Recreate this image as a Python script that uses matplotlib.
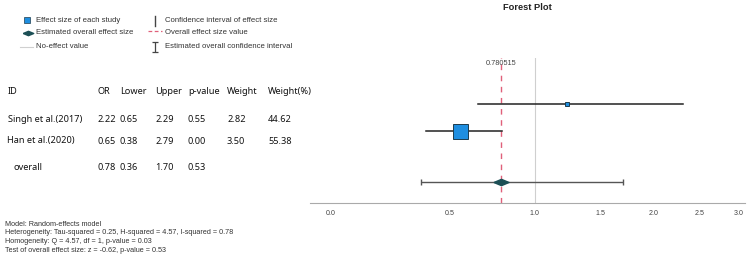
import numpy as np
import matplotlib
matplotlib.use("Agg")
import matplotlib.pyplot as plt

# ---- data ----
study_ids = ["Singh et al.(2017)", "Han et al.(2020)", "overall"]
col_names = ["ID", "OR", "Lower", "Upper", "p-value", "Weight", "Weight(%)"]
table_or = ["2.22", "0.65", "0.78"]
table_lower = ["0.65", "0.38", "0.36"]
table_upper = ["2.29", "2.79", "1.70"]
table_p = ["0.55", "0.00", "0.53"]
table_weight = ["2.82", "3.50", ""]
table_weight_pct = ["44.62", "55.38", ""]

# positions of marks as drawn in the plot panel
study_point = [1.23, 0.55]
study_lo = [0.65, 0.38]
study_hi = [2.31, 0.79]
study_row = [1.0, 2.0]
study_msize = [2.9, 10.8]

overall_est = 0.780515
overall_lo = 0.36
overall_hi = 1.70
overall_row = 3.9

no_effect = 1.0
xticks = [0.0, 0.5, 1.0, 1.5, 2.0, 2.5, 3.0]

footer = [
    "Model: Random-effects model",
    "Heterogeneity: Tau-squared = 0.25, H-squared = 4.57, I-squared = 0.78",
    "Homogeneity: Q = 4.57, df = 1, p-value = 0.03",
    "Test of overall effect size: z = -0.62, p-value = 0.53",
]

BLUE = "#1e8ee0"
EDGE = "#1d3b4c"
TEAL = "#1c4f55"
RED = "#e0607a"

fig = plt.figure(figsize=(7.5, 2.66), dpi=100)

# overlay axes in pixel units for legend, table and notes
lax = fig.add_axes([0, 0, 1, 1])
lax.set_xlim(0, 750)
lax.set_ylim(266, 0)
lax.axis("off")

# ---- forest panel ----
W, H = 750, 266
ax = fig.add_axes([310 / W, (H - 203) / H, 435 / W, 145 / H])
ax.set_facecolor("none")
ax.set_xscale("function", functions=(np.log1p, np.expm1))
ax.set_xlim(-0.069, 3.09)
ax.set_ylim(4.67, -0.70)

ax.axvline(no_effect, color="#cfcfcf", lw=0.8, zorder=1)
ax.axvline(overall_est, color=RED, lw=1.0, ls=(0, (4, 4)), zorder=2)
ax.text(overall_est, 0.965, f"{overall_est:g}", transform=ax.get_xaxis_transform(),
        ha="center", va="center", fontsize=5.3, color="#444444", family="Liberation Sans")

for p, lo, hi, r, ms in zip(study_point, study_lo, study_hi, study_row, study_msize):
    ax.plot([lo, hi], [r, r], color="#222222", lw=1.1, zorder=3)
    ax.plot(p, r, marker="s", ms=ms, mfc=BLUE, mec=EDGE, mew=0.7, zorder=4)

ax.errorbar(overall_est, overall_row, xerr=[[overall_est - overall_lo], [overall_hi - overall_est]],
            fmt="none", ecolor="#555555", elinewidth=1.0, capsize=2.5, capthick=1.0, zorder=3)
diamond = [(-1, 0), (0, 0.42), (1, 0), (0, -0.42), (-1, 0)]
ax.plot(overall_est, overall_row, marker=diamond, ms=10.8, mfc=TEAL, mec=TEAL, zorder=4)

for s in ["top", "right", "left"]:
    ax.spines[s].set_visible(False)
ax.spines["bottom"].set_color("#aaaaaa")
ax.spines["bottom"].set_linewidth(0.8)
ax.set_yticks([])
ax.set_xticks(xticks)
ax.set_xticklabels([f"{t:.1f}" for t in xticks], fontsize=5.1, color="#444444",
                   family="Liberation Sans")
ax.tick_params(axis="x", length=0, pad=5)

fig.text(527 / W, 1 - 8 / H, "Forest Plot", ha="center", va="center",
         fontsize=6.7, fontweight="bold", color="#222222", family="Liberation Sans")

# ---- legend (drawn by hand) ----
lfont = dict(fontsize=5.6, color="#333333", family="Liberation Sans", va="center")
lax.plot(27, 20, marker="s", ms=5, mfc=BLUE, mec=EDGE, mew=0.5)
lax.text(36, 21, "Effect size of each study", **lfont)
lax.plot(28, 33, marker=diamond, ms=7.5, mfc=TEAL, mec=TEAL)
lax.text(36, 33, "Estimated overall effect size", **lfont)
lax.plot([20, 33], [47, 47], color="#d0d0d0", lw=0.8)
lax.text(36, 47, "No-effect value", **lfont)
lax.plot([155, 155], [16, 26], color="#444444", lw=1.0)
lax.text(165, 21, "Confidence interval of effect size", **lfont)
lax.plot([148, 162], [31, 31], color=RED, lw=0.9, ls=(0, (3, 2)))
lax.text(165, 33, "Overall effect size value", **lfont)
lax.errorbar(155, 47, yerr=5, fmt="none", ecolor="#444444", elinewidth=0.9,
             capsize=2, capthick=0.9)
lax.text(165, 47, "Estimated overall confidence interval", **lfont)

# ---- table ----
tfont = dict(fontsize=6.6, color="#111111", family="Noto Sans", va="center", ha="left")
col_x = [8, 97, 120, 155, 188, 227, 268]
row_y = [119, 141, 168]
id_x = [8, 7, 14]
for name, x in zip(col_names, col_x):
    lax.text(x, 91, name, **tfont)
cols = [table_or, table_lower, table_upper, table_p, table_weight, table_weight_pct]
for i, y in enumerate(row_y):
    lax.text(id_x[i], y, study_ids[i], **tfont)
    for c, x in zip(cols, col_x[1:]):
        lax.text(x, y, c[i], **tfont)

# ---- footer notes ----
for i, line in enumerate(footer):
    lax.text(5, 224 + i * 8.7, line, fontsize=5.2, color="#333333",
             family="Liberation Sans", va="center")

fig.savefig("out.png", dpi=100)
